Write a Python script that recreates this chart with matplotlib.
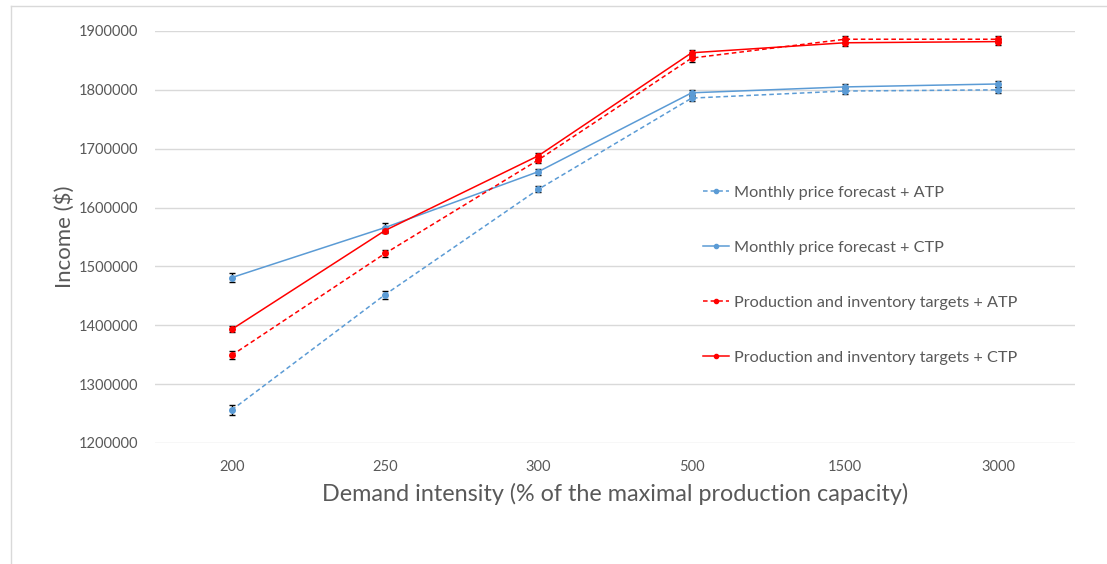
import matplotlib.pyplot as plt
from matplotlib.lines import Line2D

plt.rcParams['font.family'] = ['Lato', 'DejaVu Sans']

# Demand intensity categories
categories = ['200', '250', '300', '500', '1500', '3000']

# Income ($)
monthly_atp = [1256000, 1452000, 1631000, 1786000, 1798000, 1800000]
monthly_ctp = [1481000, 1566000, 1661000, 1795000, 1805000, 1810000]
prod_atp = [1349000, 1522000, 1681000, 1854000, 1886000, 1886000]
prod_ctp = [1393000, 1561000, 1688000, 1863000, 1880000, 1882000]

# error bar half-widths
err_monthly_atp = [8000, 7000, 5000, 5000, 5000, 5000]
err_monthly_ctp = [8000, 7000, 5000, 5000, 5000, 5000]
err_prod_atp = [7000, 6000, 6000, 6000, 5000, 5000]
err_prod_ctp = [5000, 5000, 5000, 5000, 5000, 5000]

labels = ['Monthly price forecast + ATP', 'Monthly price forecast + CTP',
          'Production and inventory targets + ATP', 'Production and inventory targets + CTP']

blue = '#5B9BD5'
red = '#FF0000'
grey = '#595959'

fig = plt.figure(figsize=(11.07, 5.64), dpi=100)
ax = fig.add_axes([155 / 1107, 1 - 443 / 564, 920 / 1107, 412 / 564])

x = list(range(len(categories)))
series = [
    (monthly_atp, err_monthly_atp, blue, (0, (3, 2))),
    (monthly_ctp, err_monthly_ctp, blue, '-'),
    (prod_atp, err_prod_atp, red, (0, (3, 2))),
    (prod_ctp, err_prod_ctp, red, '-'),
]
handles = []
for (vals, err, col, ls), lab in zip(series, labels):
    ax.errorbar(x, vals, yerr=err, fmt='none', ecolor='black', elinewidth=1,
                capsize=2, capthick=1, zorder=3)
    ax.plot(x, vals, color=col, linestyle=ls, linewidth=1.1, marker='o',
            markersize=4, zorder=4)
    handles.append(Line2D([0], [0], color=col, linestyle=ls, linewidth=1.1,
                          marker='o', markersize=3))

ax.set_xlim(-0.5, 5.5)
ax.set_ylim(1200000, 1900000)
ax.set_yticks(range(1200000, 1900001, 100000))
ax.set_yticklabels([str(v) for v in range(1200000, 1900001, 100000)])
ax.set_xticks(x)
ax.set_xticklabels(categories)
ax.grid(axis='y', color='#D9D9D9', linewidth=1)
ax.set_axisbelow(True)
for s in ax.spines.values():
    s.set_visible(False)
ax.tick_params(axis='both', length=0, colors=grey, labelsize=10.5)
ax.tick_params(axis='y', pad=12)
ax.tick_params(axis='x', pad=12)

ax.set_xlabel('Demand intensity (% of the maximal production capacity)',
              fontsize=16.8, color=grey, labelpad=7)
ax.set_ylabel('Income ($)', fontsize=16, color=grey, labelpad=3)

leg = ax.legend(handles, labels, loc='upper left', bbox_to_anchor=(0.58, 0.66),
                frameon=False, fontsize=11.7, labelspacing=2.5,
                handlelength=1.6, handletextpad=0.3, labelcolor=grey)

# chart area border
fig.add_artist(Line2D([11 / 1107, 11 / 1107], [0, 1 - 6 / 564], color='#D9D9D9', linewidth=1))
fig.add_artist(Line2D([11 / 1107, 1], [1 - 6 / 564, 1 - 6 / 564], color='#D9D9D9', linewidth=1))

fig.savefig('out.png', dpi=100)
